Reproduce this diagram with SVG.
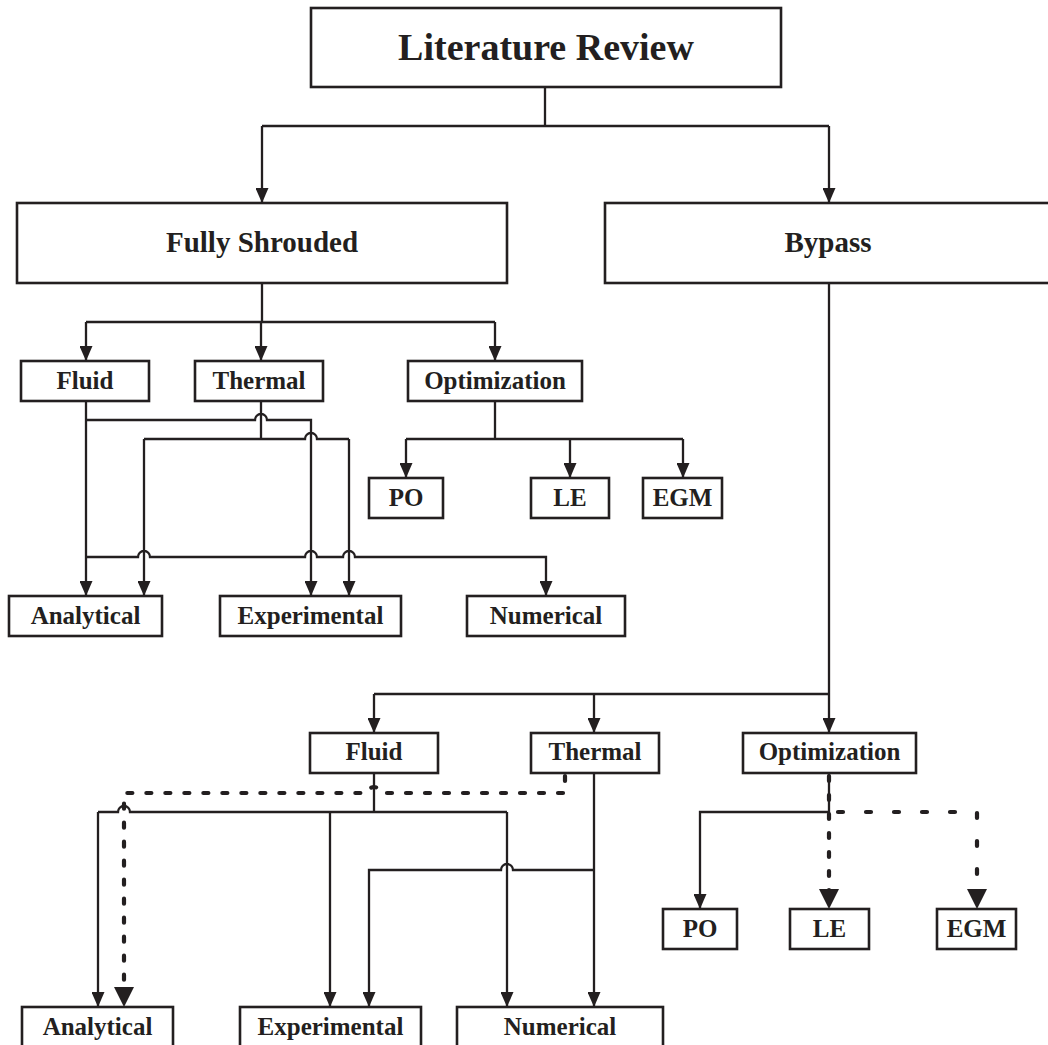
<svg xmlns="http://www.w3.org/2000/svg" width="1048" height="1045" viewBox="0 0 1048 1045">
<style>
.box{fill:#fff;stroke:#231f20;stroke-width:2.6}
.t{font-family:"Liberation Serif","Times New Roman",serif;font-weight:bold;fill:#231f20;text-anchor:middle}
.s{font-size:25px}
.m{font-size:29px}
.l{font-size:38px}
.c{fill:none;stroke:#231f20;stroke-width:2.3}
.a{marker-end:url(#arr)}
.d{fill:none;stroke:#231f20;stroke-width:4.2;stroke-dasharray:5 14;stroke-linecap:round}
.d2{stroke-dasharray:5 23}
.da{marker-end:url(#darr)}
</style>
<defs>
<marker id="arr" viewBox="0 0 15 13" refX="15" refY="6.5" markerWidth="15" markerHeight="13" markerUnits="userSpaceOnUse" orient="auto">
<path d="M0,0 L15,6.5 L0,13 Z" fill="#231f20"/>
</marker>
<marker id="darr" viewBox="0 0 20 20" refX="20" refY="10" markerWidth="20" markerHeight="20" markerUnits="userSpaceOnUse" orient="auto">
<path d="M0,0 L20,10 L0,20 Z" fill="#231f20"/>
</marker>
</defs>
<rect width="1048" height="1045" fill="#fff"/>
<g id="connectors">
<path class="c" d="M545,87 V126 M262,126 H829"/>
<path class="c a" d="M262,126 V203"/>
<path class="c a" d="M829,126 V203"/>
<path class="c" d="M262,283 V322 M86,322 H495"/>
<path class="c a" d="M86,322 V361"/>
<path class="c a" d="M261,322 V361"/>
<path class="c a" d="M495,322 V361"/>
<path class="c" d="M495,401 V439 M406,439 H683"/>
<path class="c a" d="M406,439 V478"/>
<path class="c a" d="M570,439 V478"/>
<path class="c a" d="M683,439 V478"/>
<path class="c a" d="M86,401 V596"/>
<path class="c a" d="M86,420 H255 A6,6 0 0 1 267,420 H311 V596"/>
<path class="c" d="M261,401 V439"/>
<path class="c" d="M144,439 H305 A6,6 0 0 1 317,439 H349"/>
<path class="c a" d="M144,439 V596"/>
<path class="c a" d="M349,439 V596"/>
<path class="c a" d="M86,557 H138 A6,6 0 0 1 150,557 H305 A6,6 0 0 1 317,557 H343 A6,6 0 0 1 355,557 H546 V596"/>
<path class="c" d="M829,283 V694 M374,694 H829"/>
<path class="c a" d="M374,694 V733"/>
<path class="c a" d="M594,694 V733"/>
<path class="c a" d="M829,694 V733"/>
<path class="c a" d="M829,773 V812 H700 V909"/>
<path class="d da" d="M829,776 V909"/>
<path class="d d2 da" d="M838,812 H977 V909"/>
<path class="c" d="M374,773 V812"/>
<path class="c" d="M98,812 H118 A6,6 0 0 1 130,812 H507"/>
<path class="c a" d="M98,812 V1007"/>
<path class="c a" d="M330,812 V1007"/>
<path class="c a" d="M507,812 V1007"/>
<path class="c a" d="M594,773 V1007"/>
<path class="c a" d="M594,870 H513 A6,6 0 0 0 501,870 H369 V1007"/>
<path class="d da" d="M565,776 V793 H380 A6,6 0 0 0 368,793 H124 V1007"/>
</g>
<g id="n-literature-review"><rect class="box" x="311" y="8" width="470" height="79"/><text class="t l" x="546" y="60">Literature Review</text></g>
<g id="n-fully-shrouded"><rect class="box" x="17" y="203" width="490" height="80"/><text class="t m" x="262" y="252">Fully Shrouded</text></g>
<g id="n-bypass"><rect class="box" x="605" y="203" width="460" height="80"/><text class="t m" x="828" y="252">Bypass</text></g>
<g id="n-fs-fluid"><rect class="box" x="21" y="361" width="128" height="40"/><text class="t s" x="85" y="389">Fluid</text></g>
<g id="n-fs-thermal"><rect class="box" x="195" y="361" width="128" height="40"/><text class="t s" x="259" y="389">Thermal</text></g>
<g id="n-fs-optimization"><rect class="box" x="408" y="361" width="174" height="40"/><text class="t s" x="495" y="389">Optimization</text></g>
<g id="n-fs-po"><rect class="box" x="369" y="478" width="74" height="40"/><text class="t s" x="406" y="506">PO</text></g>
<g id="n-fs-le"><rect class="box" x="531" y="478" width="78" height="40"/><text class="t s" x="570" y="506">LE</text></g>
<g id="n-fs-egm"><rect class="box" x="643" y="478" width="79" height="40"/><text class="t s" x="682.5" y="506">EGM</text></g>
<g id="n-fs-analytical"><rect class="box" x="9" y="596" width="153" height="40"/><text class="t s" x="85.5" y="624">Analytical</text></g>
<g id="n-fs-experimental"><rect class="box" x="220" y="596" width="181" height="40"/><text class="t s" x="310.5" y="624">Experimental</text></g>
<g id="n-fs-numerical"><rect class="box" x="467" y="596" width="158" height="40"/><text class="t s" x="546" y="624">Numerical</text></g>
<g id="n-bp-fluid"><rect class="box" x="310" y="733" width="128" height="40"/><text class="t s" x="374" y="760">Fluid</text></g>
<g id="n-bp-thermal"><rect class="box" x="531" y="733" width="128" height="40"/><text class="t s" x="595" y="760">Thermal</text></g>
<g id="n-bp-optimization"><rect class="box" x="743" y="733" width="173" height="40"/><text class="t s" x="829.5" y="760">Optimization</text></g>
<g id="n-bp-po"><rect class="box" x="663" y="909" width="74" height="40"/><text class="t s" x="700" y="937">PO</text></g>
<g id="n-bp-le"><rect class="box" x="790" y="909" width="79" height="40"/><text class="t s" x="829.5" y="937">LE</text></g>
<g id="n-bp-egm"><rect class="box" x="937" y="909" width="79" height="40"/><text class="t s" x="976.5" y="937">EGM</text></g>
<g id="n-bp-analytical"><rect class="box" x="22" y="1007" width="151" height="42"/><text class="t s" x="97.5" y="1035">Analytical</text></g>
<g id="n-bp-experimental"><rect class="box" x="240" y="1007" width="181" height="42"/><text class="t s" x="330.5" y="1035">Experimental</text></g>
<g id="n-bp-numerical"><rect class="box" x="457" y="1007" width="206" height="42"/><text class="t s" x="560" y="1035">Numerical</text></g>
</svg>
